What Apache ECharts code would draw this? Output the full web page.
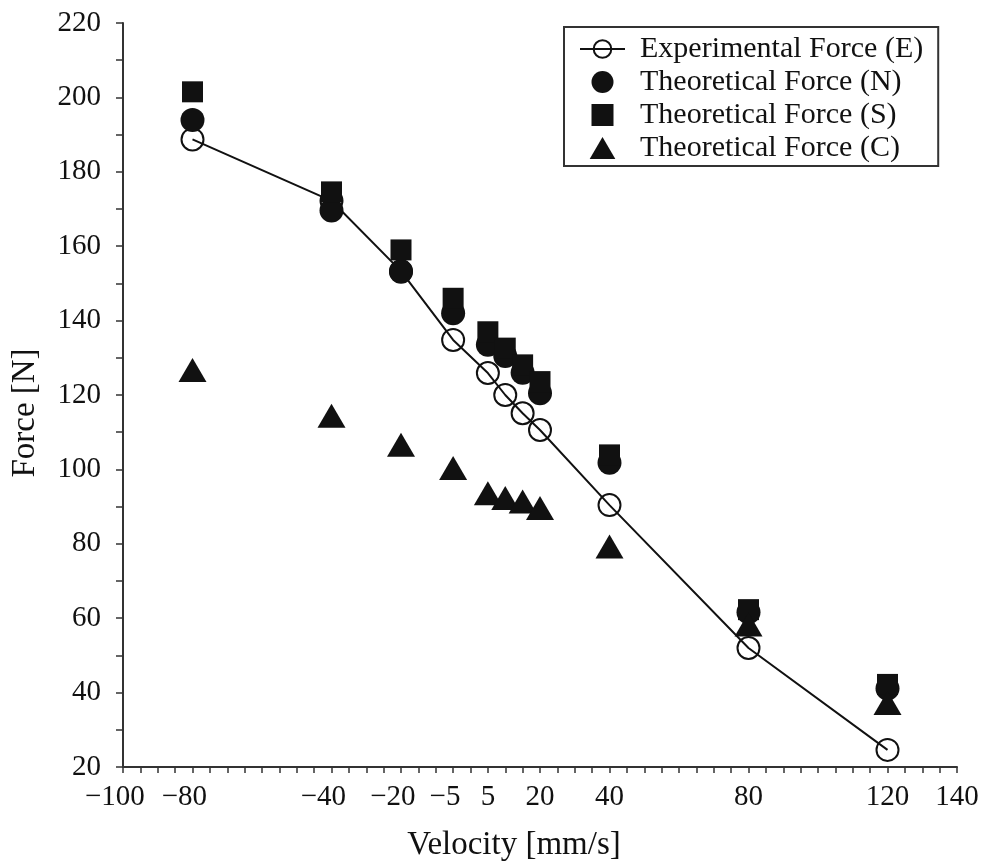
<!DOCTYPE html>
<html>
<head>
<meta charset="utf-8">
<script src="https://cdn.jsdelivr.net/npm/echarts@6/dist/echarts.min.js"></script>
<style>
html,body{margin:0;padding:0;background:#fff;}
#chart{width:984px;height:864px;}
</style>
</head>
<body>
<div id="chart"></div>
<script>
// ---- data ----
const velocity = [-80, -40, -20, -5, 5, 10, 15, 20, 40, 80, 120];
const forceE = [188.7, 172.2, 153.3, 134.8, 125.9, 120.0, 115.1, 110.6, 90.4, 52.0, 24.6];
const forceN = [193.9, 169.6, 153.1, 142.0, 133.5, 130.5, 126.0, 120.5, 101.8, 61.6, 41.1];
const forceS = [201.5, 174.6, 159.0, 146.0, 137.0, 132.6, 128.1, 123.6, 103.9, 62.3, 42.2];
const forceC = [126.7, 114.4, 106.6, 100.4, 93.6, 92.3, 91.4, 89.6, 79.3, 58.3, 37.2];
const xTickLabels = [-100, -80, -40, -20, -5, 5, 20, 40, 80, 120, 140];
const seriesNames = ['Experimental Force (E)', 'Theoretical Force (N)', 'Theoretical Force (S)', 'Theoretical Force (C)'];

const FONT = 'Liberation Serif';
const INK = '#111';
const pairs = arr => velocity.map((v, i) => [v, arr[i]]);
// negative labels: digits centred on the tick, minus sign hanging to the left
const fmtX = v => (v < 0 ? '\u2212' + Math.abs(v) + '{h|\u2212}' : String(v));

const chart = echarts.init(document.getElementById('chart'), null, {renderer: 'canvas'});
chart.setOption({
  animation: false,
  backgroundColor: '#fff',
  grid: {left: 123, right: 27, top: 23, bottom: 97, containLabel: false, outerBoundsMode: 'none'},
  legend: {
    orient: 'vertical',
    left: 564, top: 27,
    padding: [7, 15, 3, 15],
    borderColor: '#333', borderWidth: 2,
    itemWidth: 45, itemHeight: 22, itemGap: 3,
    textStyle: {fontFamily: FONT, fontSize: 30, color: INK, lineHeight: 30, padding: [0, 0, 0, 10]},
    data: [
      {name: seriesNames[0]},
      {name: seriesNames[1], icon: 'circle'},
      {name: seriesNames[2], icon: 'path://M0,0h10v10h-10z'},
      {name: seriesNames[3], icon: 'path://M14,0L28,24L0,24Z'}
    ]
  },
  xAxis: {
    type: 'value', min: -100, max: 140, interval: 5,
    name: 'Velocity [mm/s]', nameLocation: 'middle', nameGap: 62,
    nameTextStyle: {fontFamily: FONT, fontSize: 33, color: INK, padding: [0, 52, 0, 0]},
    axisLine: {show: true, onZero: false, lineStyle: {color: '#333', width: 2}},
    axisTick: {show: true, inside: false, length: 6, lineStyle: {color: '#333', width: 1.5}},
    axisLabel: {
      fontFamily: FONT, fontSize: 29, color: INK, margin: 16,
      formatter: v => (xTickLabels.indexOf(v) >= 0 ? fmtX(v) : ''),
      rich: {h: {fontFamily: FONT, fontSize: 29, color: 'rgba(0,0,0,0)'}}
    },
    splitLine: {show: false}
  },
  yAxis: {
    type: 'value', min: 20, max: 220, interval: 20,
    name: 'Force [N]', nameLocation: 'middle', nameGap: 81, nameRotate: 90,
    nameTextStyle: {fontFamily: FONT, fontSize: 33, color: INK, padding: [0, 36, 0, 0]},
    axisLine: {show: true, onZero: false, lineStyle: {color: '#333', width: 2}},
    axisTick: {show: true, inside: false, length: 7, lineStyle: {color: '#333', width: 1.5}},
    minorTick: {show: true, splitNumber: 2, length: 7, lineStyle: {color: '#333', width: 1.5}},
    axisLabel: {fontFamily: FONT, fontSize: 29, color: INK, margin: 22, padding: [5, 0, 0, 0]},
    splitLine: {show: false}
  },
  series: [
    {
      name: seriesNames[0], type: 'line', data: pairs(forceE),
      symbol: 'circle', symbolSize: 22, z: 2,
      lineStyle: {color: INK, width: 2},
      itemStyle: {color: 'rgba(255,255,255,0)', borderColor: INK, borderWidth: 2}
    },
    {
      name: seriesNames[1], type: 'scatter', data: pairs(forceN),
      symbol: 'circle', symbolSize: 24, z: 3,
      itemStyle: {color: INK, opacity: 1}
    },
    {
      name: seriesNames[2], type: 'scatter', data: pairs(forceS),
      symbol: 'rect', symbolSize: 21, z: 3,
      itemStyle: {color: INK, opacity: 1}
    },
    {
      name: seriesNames[3], type: 'scatter', data: pairs(forceC),
      symbol: 'triangle', symbolSize: [28, 24], z: 3,
      itemStyle: {color: INK, opacity: 1}
    }
  ]
});
</script>
</body>
</html>
